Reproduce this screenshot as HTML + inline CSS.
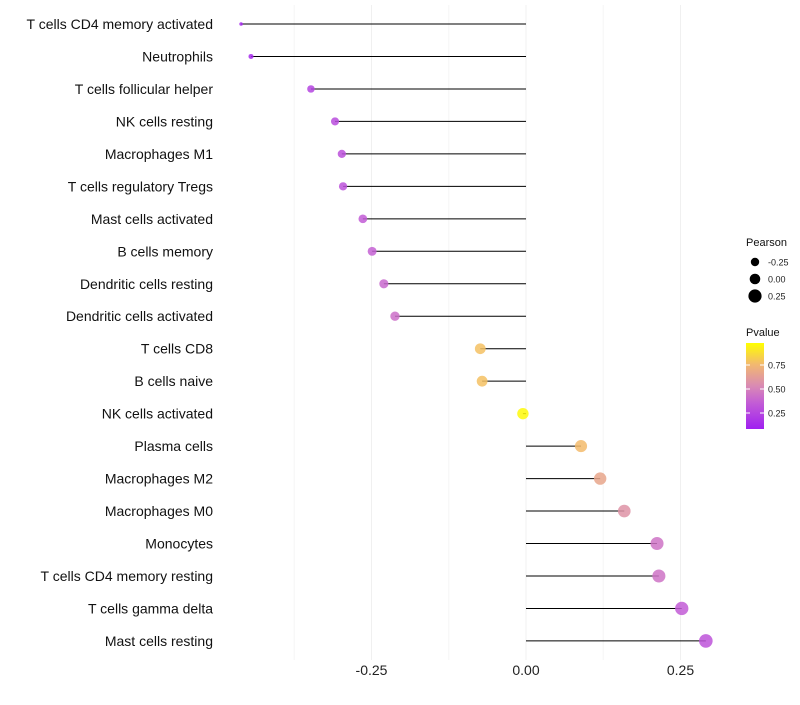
<!DOCTYPE html>
<html><head><meta charset="utf-8"><style>
body{margin:0;background:#fff;font-family:"Liberation Sans",sans-serif}
svg text{font-family:"Liberation Sans",sans-serif}
</style></head><body>
<svg id="c" width="800" height="700">
<defs><linearGradient id="pg" x1="0" y1="1" x2="0" y2="0">
<stop offset="0" stop-color="#A020F0"/><stop offset="0.3" stop-color="#C25CD6"/><stop offset="0.5" stop-color="#D98AB4"/><stop offset="0.75" stop-color="#F2B870"/><stop offset="1" stop-color="#FFFF00"/></linearGradient></defs>
</svg>
<script>
const categories=["T cells CD4 memory activated","Neutrophils","T cells follicular helper","NK cells resting","Macrophages M1","T cells regulatory  Tregs","Mast cells activated","B cells memory","Dendritic cells resting","Dendritic cells activated","T cells CD8","B cells naive","NK cells activated","Plasma cells","Macrophages M2","Macrophages M0","Monocytes","T cells CD4 memory resting","T cells gamma delta","Mast cells resting"];
const pearson=[-0.461,-0.445,-0.348,-0.309,-0.298,-0.296,-0.264,-0.249,-0.230,-0.212,-0.074,-0.071,-0.005,0.089,0.120,0.159,0.212,0.215,0.252,0.291];
const pvalues=[0.04,0.05,0.18,0.22,0.24,0.25,0.3,0.32,0.35,0.38,0.78,0.78,0.98,0.76,0.65,0.55,0.4,0.4,0.3,0.26];
const xTicks=[-0.25,0,0.25];
const xTickLabels=["-0.25","0.00","0.25"];
const NS="http://www.w3.org/2000/svg",svg=document.getElementById('c');
const x=v=>526+v*618, y=i=>24+i*32.47, r=v=>1.8+5*Math.sqrt(Math.max(0,(v+0.461)/0.752));
function mk(t,a,p){const e=document.createElementNS(NS,t);for(const k in a)e.setAttribute(k,a[k]);(p||svg).appendChild(e);return e;}
const stops=[[0,[160,32,240]],[0.3,[194,92,214]],[0.5,[217,138,180]],[0.75,[242,184,112]],[1,[255,255,0]]];
function col(p){for(let i=1;i<stops.length;i++){if(p<=stops[i][0]){const [a,ca]=stops[i-1],[b,cb]=stops[i],t=(p-a)/(b-a);return 'rgb('+ca.map((c,j)=>Math.round(c+(cb[j]-c)*t)).join(',')+')';}}return 'rgb(255,255,0)';}
const g=mk('g',{});


[-0.375,-0.125,0.125].forEach(v=>mk('line',{x1:x(v),x2:x(v),y1:5,y2:660,stroke:'#f6f6f6','stroke-width':1},g));
xTicks.forEach(v=>mk('line',{x1:x(v),x2:x(v),y1:5,y2:660,stroke:'#f0f0f0','stroke-width':1},g));
xTicks.forEach((v,i)=>{const t=mk('text',{x:x(v),y:675,'text-anchor':'middle','font-size':14,fill:'#222'});t.textContent=xTickLabels[i];

});
categories.forEach((c,i)=>{
const t=mk('text',{x:213,y:y(i)+5,'text-anchor':'end','font-size':14,fill:'#111'});t.textContent=c;


const l=mk('line',{x1:x(0),x2:x(pearson[i]),y1:y(i),y2:y(i),stroke:'#000','stroke-width':1});


const p=mk('circle',{cx:x(pearson[i]),cy:y(i),r:r(pearson[i]),fill:col(pvalues[i]),'fill-opacity':0.85});


});
const lg=mk('g',{});


mk('text',{x:746,y:246,'font-size':11,fill:'#111'},lg).textContent='Pearson';
[[-0.25,262],[0,279],[0.25,296]].forEach(([v,yy])=>{mk('circle',{cx:755,cy:yy,r:[4.2,5.3,6.6][[-0.25,0,0.25].indexOf(v)],fill:'#000'},lg);const t=mk('text',{x:768,y:yy+3.5,'font-size':9,fill:'#222'},lg);t.textContent=v===0?'0.00':v.toFixed(2);});
mk('text',{x:746,y:336,'font-size':11,fill:'#111'},lg).textContent='Pvalue';
mk('rect',{x:746,y:343,width:18,height:86,fill:'url(#pg)'},lg);
[[0.75,365],[0.5,389],[0.25,413]].forEach(([v,yy])=>{mk('line',{x1:746,x2:750,y1:yy,y2:yy,stroke:'#fff'},lg);mk('line',{x1:760,x2:764,y1:yy,y2:yy,stroke:'#fff'},lg);mk('text',{x:768,y:yy+3.5,'font-size':9,fill:'#222'},lg).textContent=v.toFixed(2);});
</script>
</body></html>
